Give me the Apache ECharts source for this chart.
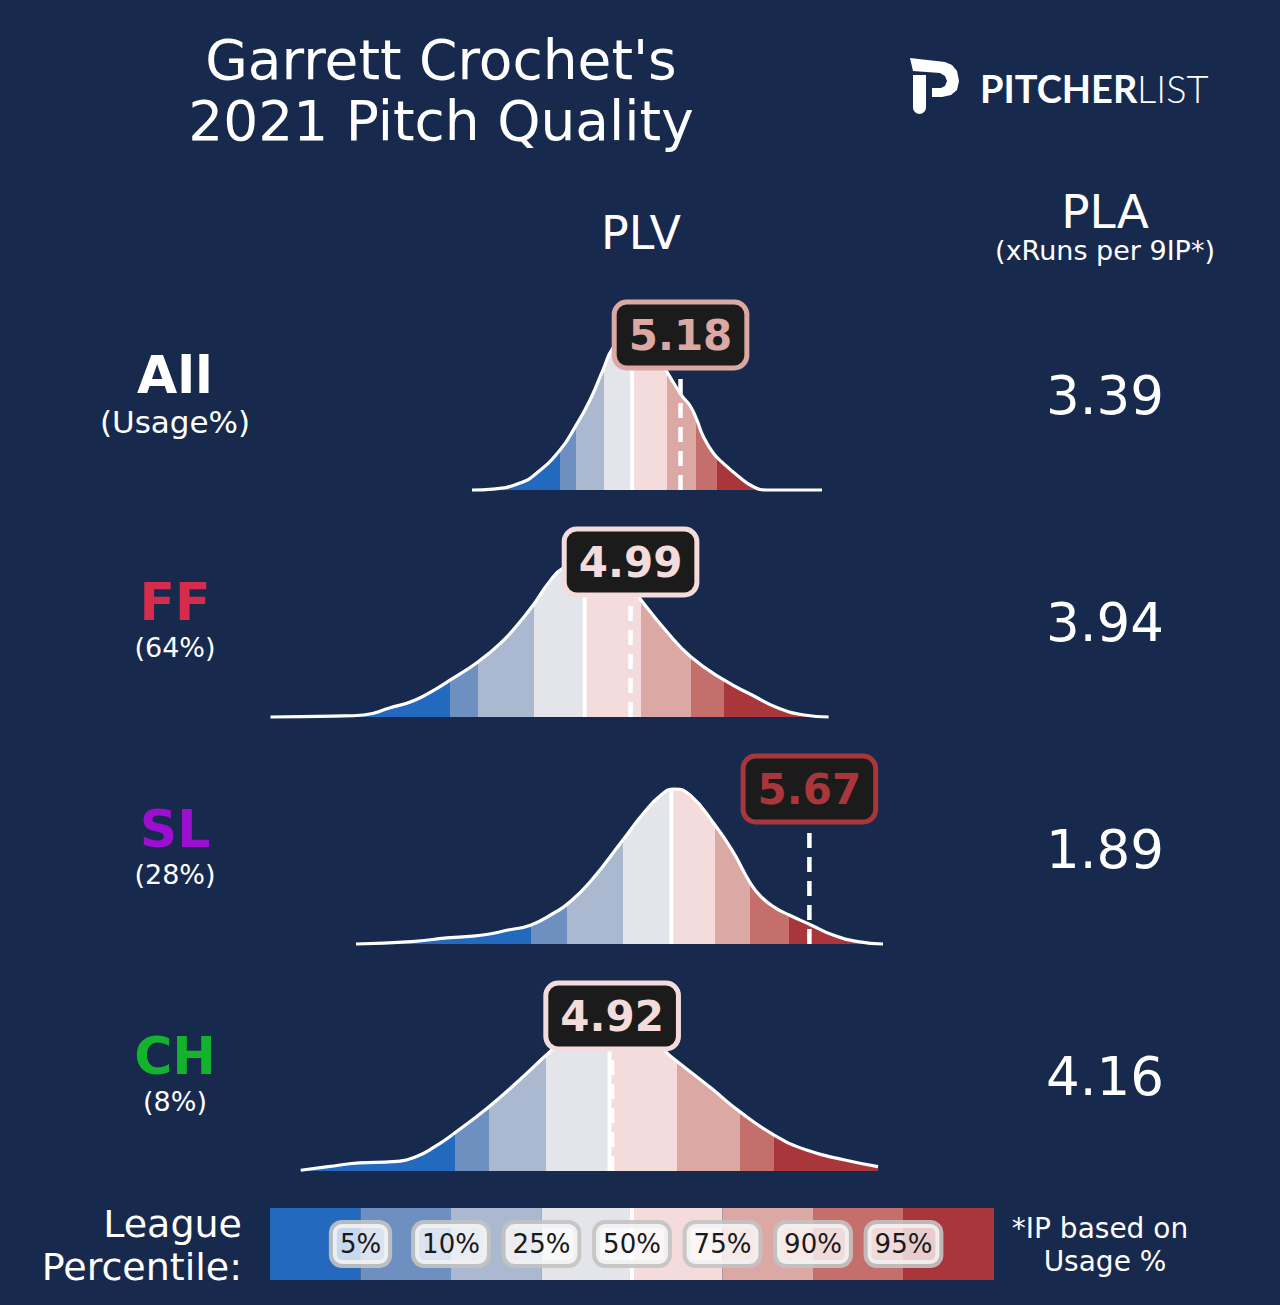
<!DOCTYPE html>
<html>
<head>
<meta charset="utf-8">
<script src="https://cdn.jsdelivr.net/npm/echarts@6/dist/echarts.min.js"></script>
<style>
html,body{margin:0;padding:0;background:#172a4e;}
#chart{width:1280px;height:1305px;}
</style>
</head>
<body>
<div id="chart"></div>
<script>
// ---------------- DATA ----------------
const pitchTypes = ['All', 'FF', 'SL', 'CH'];
const usageLabels = ['(Usage%)', '(64%)', '(28%)', '(8%)'];
const plvValues = [5.18, 4.99, 5.67, 4.92];
const plaValues = ['3.39', '3.94', '1.89', '4.16'];
const percentileLabels = ['5%', '10%', '25%', '50%', '75%', '90%', '95%'];

// league PLV density curves: [PLV, relative density]
const curveAll = [[4.387,0],[4.467,0.006],[4.570,0.045],[4.634,0.110],[4.722,0.258],[4.779,0.406],[4.836,0.581],[4.885,0.774],[4.923,0.916],[4.977,1.0],[5.045,0.948],[5.091,0.865],[5.129,0.761],[5.184,0.610],[5.216,0.545],[5.242,0.452],[5.267,0.344],[5.305,0.237],[5.343,0.172],[5.394,0.097],[5.457,0.021],[5.508,0],[5.718,0]];
const curveFF = [[3.621,0],[3.862,0.006],[3.975,0.013],[4.073,0.058],[4.172,0.110],[4.256,0.187],[4.305,0.239],[4.411,0.357],[4.496,0.477],[4.566,0.606],[4.625,0.735],[4.678,0.865],[4.733,0.961],[4.817,1.0],[4.893,0.974],[4.969,0.897],[5.030,0.755],[5.129,0.548],[5.220,0.387],[5.345,0.239],[5.452,0.142],[5.551,0.058],[5.650,0.013],[5.743,0]];
const curveSL = [[3.946,0],[4.157,0.015],[4.292,0.039],[4.429,0.058],[4.524,0.090],[4.612,0.123],[4.699,0.200],[4.750,0.258],[4.836,0.400],[4.961,0.671],[5.040,0.845],[5.106,0.961],[5.155,1.0],[5.216,0.961],[5.311,0.768],[5.380,0.594],[5.443,0.400],[5.486,0.305],[5.542,0.232],[5.593,0.187],[5.676,0.123],[5.760,0.058],[5.855,0.015],[5.950,0]];
const curveCH = [[3.736,0.005],[3.840,0.028],[3.958,0.052],[4.087,0.060],[4.174,0.092],[4.246,0.157],[4.321,0.245],[4.452,0.415],[4.568,0.587],[4.670,0.748],[4.779,0.910],[4.874,0.987],[4.920,1.0],[4.988,0.974],[5.064,0.877],[5.129,0.761],[5.165,0.710],[5.296,0.535],[5.405,0.383],[5.536,0.232],[5.659,0.135],[5.805,0.071],[5.931,0.028]];

// league percentile cut-offs (5,10,25,50,75,90,95)
const cutsAll = [4.722, 4.783, 4.889, 4.996, 5.129, 5.239, 5.319];
const cutsFF  = [4.303, 4.410, 4.623, 4.816, 5.030, 5.220, 5.345];
const cutsSL  = [4.612, 4.750, 4.961, 5.145, 5.311, 5.443, 5.593];
const cutsCH  = [4.321, 4.452, 4.670, 4.910, 5.165, 5.405, 5.536];

// ---------------- STYLE / LAYOUT ----------------
const bandColors = ['#2369bd','#6d90c0','#aab9cf','#e4e5ea','#f3dcdb','#dba8a4','#c46f6b','#a8363b'];
const typeColors = ['#ffffff', '#d62b4b', '#9b0fd0', '#13b32e'];
const rowBaselines = [490, 717, 944, 1171];
const PEAK_PX = 155;
const FONT = '"DejaVu Sans", "Noto Sans", sans-serif';

const curves = [curveAll, curveFF, curveSL, curveCH];
const cuts = [cutsAll, cutsFF, cutsSL, cutsCH];

function buildPieces(c) {
  const p = [{lt: c[0], color: bandColors[0]}];
  for (let i = 1; i < c.length; i++) p.push({gte: c[i-1], lt: c[i], color: bandColors[i]});
  p.push({gte: c[c.length-1], color: bandColors[c.length]});
  return p;
}
function densityAt(curve, x) {
  for (let i = 1; i < curve.length; i++) {
    if (curve[i][0] >= x) {
      const [x0, y0] = curve[i-1], [x1, y1] = curve[i];
      return y0 + (y1 - y0) * (x - x0) / (x1 - x0);
    }
  }
  return 0;
}
function bandIndex(c, v) { return c.filter(b => b <= v).length; }

const grids = [], xAxes = [], yAxes = [], series = [], visualMaps = [];

pitchTypes.forEach((t, i) => {
  grids.push({left: 238.66, right: 383.82, top: rowBaselines[i] - PEAK_PX, height: PEAK_PX});
  xAxes.push({type: 'value', gridIndex: i, min: 3.5, max: 6.0, show: false});
  yAxes.push({type: 'value', gridIndex: i, min: 0, max: 1, show: false});
  const sIdx = series.length;
  series.push({
    type: 'line', xAxisIndex: i, yAxisIndex: i, data: curves[i],
    smooth: 0.5, showSymbol: false, symbol: 'none', clip: false,
    lineStyle: {color: '#ffffff', width: 3.2}, areaStyle: {opacity: 1}, z: 2, silent: true
  });
  visualMaps.push({type: 'piecewise', show: false, dimension: 0, seriesIndex: sIdx, pieces: buildPieces(cuts[i])});
  const med = cuts[i][3];
  series.push({
    type: 'line', xAxisIndex: i, yAxisIndex: i, data: [[med, 0], [med, densityAt(curves[i], med)]],
    symbol: 'none', clip: false, lineStyle: {color: '#ffffff', width: 4}, z: 3, silent: true
  });
  const v = plvValues[i];
  series.push({
    type: 'line', xAxisIndex: i, yAxisIndex: i, data: [[v, 0], [v, 1]],
    symbol: 'none', clip: false, lineStyle: {color: '#ffffff', width: 4.5, type: [15, 9]}, z: 4, silent: true
  });
  const lc = bandColors[bandIndex(cuts[i], v)];
  series.push({
    type: 'scatter', xAxisIndex: i, yAxisIndex: i, data: [[v, 1]], symbolSize: 0.1,
    itemStyle: {color: 'transparent', opacity: 1}, z: 6, silent: true,
    label: {
      show: true, position: 'inside', formatter: v.toFixed(2), opacity: 1,
      fontFamily: FONT, fontWeight: 'bold', fontSize: 42, lineHeight: 46, color: lc,
      backgroundColor: '#1b1b1b', borderColor: lc, borderWidth: 5, borderRadius: 10, padding: [8, 12, 7, 12]
    }
  });
});

// legend (league percentile bar)
grids.push({left: 270, top: 1208, width: 724, height: 72});
xAxes.push({type: 'category', gridIndex: 4, data: bandColors.map((c, i) => 'band' + i), show: false});
xAxes.push({type: 'value', gridIndex: 4, min: 0, max: 8, show: false});
yAxes.push({type: 'value', gridIndex: 4, min: 0, max: 1, show: false});
series.push({
  type: 'bar', xAxisIndex: 4, yAxisIndex: 4, barCategoryGap: 0, barWidth: '100%', silent: true,
  data: bandColors.map(c => ({value: 1, itemStyle: {color: c}}))
});
series.push({
  type: 'line', xAxisIndex: 5, yAxisIndex: 4, data: [[4, 0], [4, 1]], symbol: 'none',
  lineStyle: {color: '#ffffff', width: 4}, z: 3, silent: true
});
series.push({
  type: 'scatter', xAxisIndex: 5, yAxisIndex: 4, symbolSize: 0.1, itemStyle: {color: 'transparent', opacity: 1}, z: 5, silent: true,
  data: percentileLabels.map((l, i) => [i + 1, 0.5]),
  label: {
    show: true, position: 'inside', formatter: p => percentileLabels[p.dataIndex], opacity: 1,
    fontFamily: FONT, fontSize: 26, lineHeight: 28, color: '#1a1a1a',
    backgroundColor: 'rgba(255,255,255,0.75)', borderColor: 'rgba(195,195,195,0.9)', borderWidth: 4,
    borderRadius: 9, padding: [6, 7, 6, 7]
  }
});

// texts
function txt(text, x, y, size, fill, opts) {
  opts = opts || {};
  const st = {
    text: text, fill: fill || '#ffffff', align: opts.align || 'center', verticalAlign: 'middle',
    font: (opts.weight || 'normal') + ' ' + size + 'px ' + (opts.family || FONT)
  };
  if (opts.lineHeight) st.lineHeight = opts.lineHeight;
  return {type: 'text', x: x, y: y, silent: true, z: 10, style: st};
}
const graphics = [
  txt("Garrett Crochet's", 441, 60, 55),
  txt('2021 Pitch Quality', 441, 121, 55),
  txt('PLV', 641, 233, 46),
  txt('PLA', 1105, 211, 47),
  txt('(xRuns per 9IP*)', 1105, 250, 27),
  txt('League', 242, 1224, 38, '#ffffff', {align: 'right'}),
  txt('Percentile:', 242, 1267, 38, '#ffffff', {align: 'right'}),
  txt('*IP based on', 1100, 1228, 28),
  txt('Usage %', 1105, 1261, 28),
  txt('PITCHER', 980, 88, 38, '#ffffff', {align: 'left', weight: 'bold', family: 'Lato, "Open Sans", sans-serif'}),
  txt('LIST', 1137, 88, 38, '#ffffff', {align: 'left', weight: '300', family: 'Lato, "Open Sans", sans-serif'}),
  {
    type: 'polygon', silent: true, z: 10,
    shape: {points: [[910,58],[945,62],[952,65],[957,71],[959,81],[957,90],[951,95],[942,97],[932,97],[932,88],[941,88],[945,86],[947,81],[945,76],[940,73],[913,71]]},
    style: {fill: '#ffffff'}
  },
  {
    type: 'rect', silent: true, z: 10,
    shape: {x: 913, y: 75, width: 13, height: 39, r: [0, 0, 6.5, 6.5]},
    style: {fill: '#ffffff'}
  }
];
pitchTypes.forEach((t, i) => {
  const b = rowBaselines[i];
  graphics.push(txt(t, 175, b - 115, 52, typeColors[i], {weight: 'bold', lineHeight: 40}));
  graphics.push(txt(usageLabels[i], 175, i === 0 ? b - 68 : b - 70, i === 0 ? 31 : 27, '#ffffff', {lineHeight: 26}));
  graphics.push(txt(plaValues[i], 1105, b - 95, 53));
});

const chart = echarts.init(document.getElementById('chart'), null, {renderer: 'svg', width: 1280, height: 1305});
chart.setOption({
  backgroundColor: '#172a4e',
  animation: false,
  grid: grids,
  xAxis: xAxes,
  yAxis: yAxes,
  visualMap: visualMaps,
  series: series,
  graphic: graphics
});
</script>
</body>
</html>
